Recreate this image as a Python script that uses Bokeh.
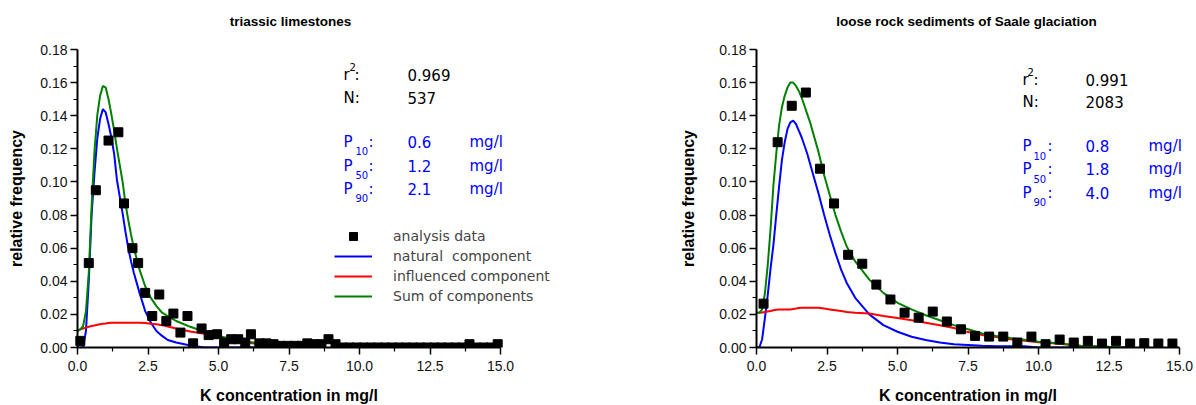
import math
from bokeh.plotting import figure
from bokeh.layouts import row
from bokeh.models import (Range1d, FixedTicker, NumeralTickFormatter, Label,
                          Legend, LegendItem, ColumnDataSource, BoxAnnotation)
from bokeh.embed import file_html
from bokeh.resources import INLINE

# ---------------- data: triassic limestones ----------------
left_title = "triassic limestones"
left_pts_x = [0.1, 0.4, 0.65, 1.1, 1.45, 1.65, 1.95, 2.15, 2.4, 2.65, 2.9, 3.15, 3.4, 3.65,
              3.9, 4.1, 4.4, 4.65, 4.95, 5.2, 5.45, 5.7, 5.95, 6.15, 6.45, 6.7, 6.95, 7.2,
              7.45, 7.7, 7.95, 8.15, 8.4, 8.65, 8.9, 9.15, 9.4, 9.65, 9.9, 10.15, 10.4,
              10.65, 10.9, 11.15, 11.4, 11.65, 11.9, 12.15, 12.4, 12.65, 12.9, 13.15,
              13.4, 13.65, 13.9, 14.15, 14.4, 14.65, 14.9]
left_pts_y = [0.004, 0.051, 0.095, 0.125, 0.130, 0.087, 0.060, 0.051, 0.033, 0.019, 0.032,
              0.016, 0.0205, 0.009, 0.019, 0.0025, 0.0115, 0.0075, 0.008, 0.003, 0.005,
              0.005, 0.003, 0.008, 0.0025, 0.0025, 0.002, 0.001, 0.001, 0.001, 0.001,
              0.0025, 0.002, 0.002, 0.005, 0.002, 0.0, 0.0, 0.0, 0.0, 0.0, 0.0, 0.0, 0.0,
              0.0, 0.0, 0.0, 0.0, 0.0, 0.0, 0.0, 0.0, 0.0, 0.0, 0.002, 0.0, 0.0, 0.0, 0.002]

left_curve_x = [0.0, 0.1, 0.2, 0.3, 0.4, 0.5, 0.6, 0.7, 0.8, 0.9, 1.0, 1.1, 1.2, 1.3, 1.4,
                1.5, 1.6, 1.7, 1.8, 1.9, 2.0, 2.2, 2.4, 2.6, 2.8, 3.0, 3.2, 3.5, 4.0, 4.5,
                5.0, 5.5, 6.0, 6.5, 7.0, 7.5, 7.8]
left_natural = [0.0, 0.0, 0.0, 0.01, 0.04, 0.08, 0.105, 0.126, 0.138, 0.144, 0.142, 0.135,
                0.127, 0.117, 0.101, 0.091, 0.081, 0.070, 0.060, 0.052, 0.045, 0.033,
                0.022, 0.015, 0.010, 0.007, 0.0045, 0.003, 0.0012, 0.0, 0.0, 0.0, 0.0,
                0.0, 0.0, 0.0, 0.0]
left_influenced = [0.010, 0.011, 0.0115, 0.012, 0.0125, 0.013, 0.0133, 0.0137, 0.014,
                   0.0143, 0.0145, 0.0148, 0.015, 0.015, 0.015, 0.015, 0.015, 0.015,
                   0.015, 0.015, 0.015, 0.015, 0.0148, 0.0143, 0.014, 0.0135, 0.0127,
                   0.0115, 0.0097, 0.0083, 0.0065, 0.0045, 0.003, 0.002, 0.0013, 0.0007,
                   0.0]
left_sum = [0.010, 0.011, 0.013, 0.022, 0.045, 0.085, 0.118, 0.140, 0.152, 0.158, 0.157,
            0.150, 0.141, 0.131, 0.120, 0.110, 0.100, 0.087, 0.077, 0.068, 0.060, 0.047,
            0.037, 0.030, 0.025, 0.021, 0.019, 0.016, 0.0125, 0.0095, 0.007, 0.005,
            0.0035, 0.0025, 0.0015, 0.0008, 0.0]
left_stats = ["0.969", "537", "0.6", "1.2", "2.1"]

# ---------------- data: loose rock sediments ----------------
right_title = "loose rock sediments of Saale glaciation"
right_pts_x = [0.25, 0.75, 1.25, 1.75, 2.25, 2.75, 3.25, 3.75, 4.25, 4.75, 5.25, 5.75,
               6.25, 6.75, 7.25, 7.75, 8.25, 8.75, 9.25, 9.75, 10.25, 10.75, 11.25,
               11.75, 12.25, 12.75, 13.25, 13.75, 14.25, 14.75]
right_pts_y = [0.0265, 0.124, 0.146, 0.154, 0.108, 0.087, 0.056, 0.0506, 0.038, 0.029,
               0.021, 0.018, 0.0217, 0.0157, 0.011, 0.007, 0.0066, 0.0066, 0.003, 0.0066,
               0.002, 0.0048, 0.003, 0.004, 0.0024, 0.004, 0.0024, 0.0026, 0.0024, 0.0024]

right_curve_x = [0.0, 0.1, 0.2, 0.3, 0.4, 0.5, 0.6, 0.7, 0.8, 0.9, 1.0, 1.1, 1.2, 1.3,
                 1.4, 1.5, 1.6, 1.7, 1.8, 1.9, 2.0, 2.2, 2.4, 2.6, 2.8, 3.0, 3.2, 3.5,
                 4.0, 4.5, 5.0, 5.5, 6.0, 6.5, 7.0, 7.5, 8.0, 8.5, 9.0, 9.5, 10.0, 10.5,
                 11.0, 11.5, 12.0, 12.5, 13.0, 13.3]
right_natural = [0.0, 0.0, 0.005, 0.018, 0.032, 0.048, 0.062, 0.080, 0.097, 0.113, 0.124,
                 0.132, 0.136, 0.137, 0.135, 0.131, 0.127, 0.122, 0.117, 0.111, 0.105,
                 0.093, 0.080, 0.068, 0.057, 0.047, 0.039, 0.030, 0.020, 0.0135, 0.0095,
                 0.0065, 0.0045, 0.003, 0.002, 0.0015, 0.001, 0.0008, 0.0008, 0.0007,
                 0.0, 0.0, 0.0, 0.0, 0.0, 0.0, 0.0, 0.0]
right_influenced = [0.021, 0.021, 0.0212, 0.0215, 0.0218, 0.022, 0.0225, 0.0228, 0.023,
                    0.023, 0.023, 0.023, 0.023, 0.0233, 0.0235, 0.0238, 0.024, 0.024,
                    0.024, 0.024, 0.024, 0.024, 0.0235, 0.023, 0.0225, 0.022, 0.0215,
                    0.021, 0.0205, 0.019, 0.0178, 0.0165, 0.015, 0.0135, 0.0118, 0.0093,
                    0.0075, 0.0063, 0.005, 0.004, 0.0032, 0.0025, 0.0018, 0.0009, 0.0006,
                    0.0003, 0.0001, 0.0]
right_sum = [0.021, 0.021, 0.023, 0.033, 0.050, 0.072, 0.098, 0.117, 0.134, 0.145, 0.152,
             0.157, 0.160, 0.160, 0.158, 0.155, 0.151, 0.146, 0.141, 0.136, 0.130, 0.118,
             0.104, 0.092, 0.080, 0.070, 0.061, 0.052, 0.041, 0.033, 0.027, 0.023,
             0.0195, 0.0165, 0.0135, 0.011, 0.0085, 0.007, 0.0058, 0.0047, 0.0035,
             0.0028, 0.002, 0.001, 0.0007, 0.0004, 0.0002, 0.0]
right_stats = ["0.991", "2083", "0.8", "1.8", "4.0"]

legend_labels = ["analysis data", "natural  component", "influenced component",
                 "Sum of components"]
x_label = "K concentration in mg/l"
y_label = "relative frequency"
x_ticks = [0.0, 2.5, 5.0, 7.5, 10.0, 12.5, 15.0]
x_minor = [1.25, 3.75, 6.25, 8.75, 11.25, 13.75]
y_ticks = [0.0, 0.02, 0.04, 0.06, 0.08, 0.10, 0.12, 0.14, 0.16, 0.18]
y_minor = [0.01, 0.03, 0.05, 0.07, 0.09, 0.11, 0.13, 0.15, 0.17]

# ---------------- layout / style ----------------
BLUE = "#0000ff"
RED = "#ff0000"
GREEN = "#008000"
AX_FONT = "Liberation Sans"
TXT_FONT = "DejaVu Sans"
FIG_H = 404
PX_X = 423 / 15.0        # pixels per unit along x
PX_Y = 298 / 0.18        # pixels per unit along y
Y0 = 347                 # pixel row of y = 0


class Panel:
    def __init__(self, left_px, width, origin_px):
        self.left = left_px          # page x of figure's left edge
        self.ox = origin_px          # page x of data x = 0
        self.p = figure(width=width, height=FIG_H, title=None,
                        x_range=Range1d((left_px - origin_px) / PX_X,
                                        (left_px + width - origin_px) / PX_X),
                        y_range=Range1d((Y0 - FIG_H) / PX_Y, Y0 / PX_Y),
                        output_backend="svg", toolbar_location=None,
                        min_border=0, min_border_left=0, min_border_right=0,
                        min_border_top=0, min_border_bottom=0)
        p = self.p
        p.outline_line_color = None
        p.grid.visible = False
        p.xaxis.fixed_location = 0
        p.yaxis.fixed_location = 0
        p.xaxis.bounds = (0, 15)
        p.yaxis.bounds = (0, 0.18)
        p.xaxis.ticker = FixedTicker(ticks=x_ticks, minor_ticks=x_minor)
        p.yaxis.ticker = FixedTicker(ticks=y_ticks, minor_ticks=y_minor)
        p.xaxis.formatter = NumeralTickFormatter(format="0.0")
        p.yaxis.formatter = NumeralTickFormatter(format="0.00")
        for ax in (p.xaxis[0], p.yaxis[0]):
            ax.axis_line_width = 2
            ax.axis_line_color = "black"
            ax.major_tick_in = 0
            ax.major_tick_out = 7
            ax.minor_tick_in = 0
            ax.minor_tick_out = 4
            ax.major_tick_line_width = 1.5
            ax.minor_tick_line_width = 1.2
            ax.major_label_text_font = AX_FONT
            ax.major_label_text_font_size = "14px"
            ax.major_label_text_color = "#111111"
        p.xaxis.major_label_standoff = 6
        p.yaxis.major_label_standoff = 3
        # hide the lower halves of markers sitting on y = 0 (as in the reference)
        p.add_layout(BoxAnnotation(top=0, fill_color="white", fill_alpha=1.0,
                                   line_color=None, level="glyph"))

    def text(self, px, py, t, size="15px", color="black", font=TXT_FONT,
             style="normal", align="left", angle=0.0):
        self.p.add_layout(Label(x=(px - self.ox) / PX_X, y=(Y0 - py) / PX_Y, text=t,
                                text_font=font, text_font_size=size,
                                text_font_style=style, text_color=color,
                                text_align=align, text_baseline="middle",
                                angle=angle))

    def draw(self, cx, nat, inf, tot, px, py):
        p = self.p
        rn = p.line(cx, nat, line_color=BLUE, line_width=2)
        ri = p.line(cx, inf, line_color=RED, line_width=2)
        rs = p.line(cx, tot, line_color=GREEN, line_width=2)
        src = ColumnDataSource(dict(x=px, y=py))
        rp = p.scatter("x", "y", source=src, marker="square", size=9,
                       fill_color="black", line_color="black")
        return rp, rn, ri, rs

    def frame_texts(self, title, title_cx, ylab_cx):
        cx = self.ox + 211.5
        self.text(title_cx, 21, title, "13.5px", font=AX_FONT, style="bold",
                  align="center")
        self.text(cx, 395, x_label, "16px", font=AX_FONT, style="bold", align="center")
        self.text(ylab_cx, 198, y_label, "16px", font=AX_FONT, style="bold",
                  align="center", angle=math.pi / 2)

    def stats(self, vals, xs, rows, sub_dy):
        # xs: letter, sup/sub start, colon after r2, colon after P, value, unit
        xl, xsub, xc_r, xc_p, xv, xu = xs
        r_y, n_y, p_ys = rows
        self.text(xl, r_y, "r")
        self.text(xsub - 6, r_y - 8, "2", "10px")
        self.text(xc_r, r_y, ":")
        self.text(xv, r_y, vals[0])
        self.text(xl, n_y, "N:")
        self.text(xv, n_y, vals[1])
        for sub, val, yy in zip(["10", "50", "90"], vals[2:], p_ys):
            self.text(xl, yy, "P", color=BLUE)
            self.text(xsub, yy + sub_dy, sub, "10px", color=BLUE)
            self.text(xc_p, yy, ":", color=BLUE)
            self.text(xv, yy, val, color=BLUE)
            self.text(xu, yy, "mg/l", color=BLUE)


left = Panel(0, 608, 77)
rp, rn, ri, rs = left.draw(left_curve_x, left_natural, left_influenced, left_sum,
                           left_pts_x, left_pts_y)
left.frame_texts(left_title, 290, 16)
left.stats(left_stats, (343, 355, 354, 368, 407, 469), (74, 97.5, (141.5, 165, 188)), 9)
legend = Legend(items=[LegendItem(label=legend_labels[0], renderers=[rp]),
                       LegendItem(label=legend_labels[1], renderers=[rn]),
                       LegendItem(label=legend_labels[2], renderers=[ri]),
                       LegendItem(label=legend_labels[3], renderers=[rs])],
                location=(334, 98), padding=0, margin=0, border_line_color=None,
                background_fill_alpha=0, glyph_width=38, glyph_height=20,
                label_height=20, spacing=0, label_standoff=21,
                label_text_font=TXT_FONT, label_text_font_size="14px")
left.p.add_layout(legend)

right = Panel(608, 588, 756)
right.draw(right_curve_x, right_natural, right_influenced, right_sum,
           right_pts_x, right_pts_y)
right.frame_texts(right_title, 966, 688)
right.stats(right_stats, (1022, 1033, 1033, 1047, 1085, 1148),
            (79, 101, (145.5, 168.5, 192)), 9.5)

layout = row(left.p, right.p)
open("out.html", "w").write(file_html(layout, INLINE))
